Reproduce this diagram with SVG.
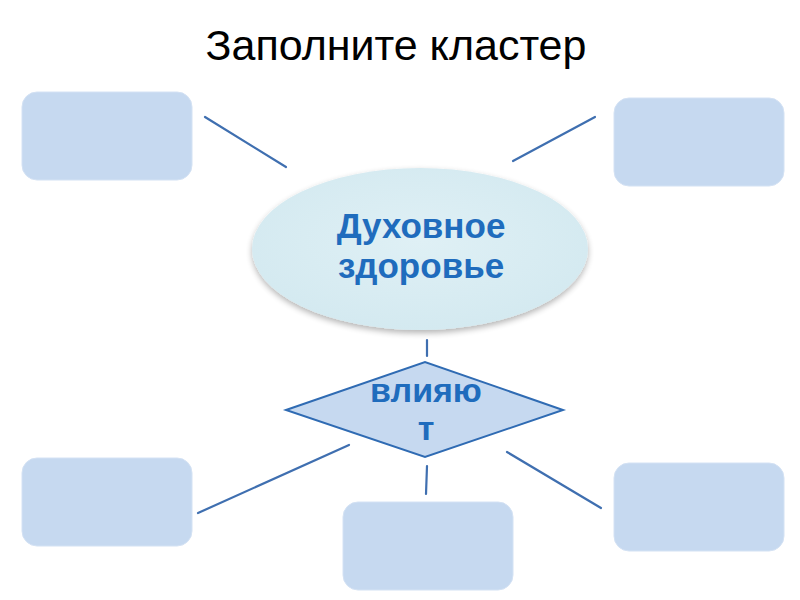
<svg xmlns="http://www.w3.org/2000/svg" width="800" height="600" viewBox="0 0 800 600">
<defs>
<style>
.box{fill:#c6d9f0;stroke:#d4e2f4;stroke-width:1}
.conn line{stroke:#3f6fb0;stroke-width:2.2;stroke-linecap:round}
.title{font-family:"Liberation Sans",Arial,sans-serif;font-size:43px;fill:#000}
.lbl{font-family:"Liberation Sans",Arial,sans-serif;font-weight:bold;fill:#1f6cbd;text-anchor:middle}
</style>
<radialGradient id="eg" cx="0.5" cy="0.45" r="0.6">
<stop offset="0" stop-color="#dff0f5"/>
<stop offset="1" stop-color="#d3e9f0"/>
</radialGradient>
<filter id="sh" x="-10%" y="-10%" width="120%" height="130%">
<feGaussianBlur in="SourceAlpha" stdDeviation="3"/>
<feOffset dy="3"/>
<feComponentTransfer><feFuncA type="linear" slope="0.3"/></feComponentTransfer>
<feMerge><feMergeNode/><feMergeNode in="SourceGraphic"/></feMerge>
</filter>
</defs>
<rect width="800" height="600" fill="#fff"/>
<text class="title" x="396" y="60" text-anchor="middle">Заполните кластер</text>
<g class="conn" id="connectors">
<line x1="205" y1="117" x2="286" y2="167"/>
<line x1="513" y1="161" x2="595" y2="117"/>
<line x1="427" y1="340" x2="427" y2="356"/>
<line x1="198" y1="513" x2="349" y2="445"/>
<line x1="427" y1="466" x2="426" y2="494"/>
<line x1="507" y1="452" x2="601" y2="508"/>
</g>
<g id="box-tl"><rect class="box" x="22" y="92" width="170" height="88" rx="15"/></g>
<g id="box-tr"><rect class="box" x="614" y="98" width="170" height="88" rx="15"/></g>
<g id="box-bl"><rect class="box" x="22" y="458" width="170" height="88" rx="15"/></g>
<g id="box-bc"><rect class="box" x="343" y="502" width="170" height="88" rx="15"/></g>
<g id="box-br"><rect class="box" x="614" y="463" width="170" height="88" rx="15"/></g>
<g id="center">
<ellipse cx="420" cy="249" rx="168" ry="81" fill="url(#eg)" filter="url(#sh)"/>
<text class="lbl" x="421" y="238" font-size="35">Духовное</text>
<text class="lbl" x="421" y="278" font-size="35">здоровье</text>
</g>
<g id="diamond">
<polygon points="286,410 425,362 563,410 425,457" fill="#c6d9f0" stroke="#2f6bb3" stroke-width="2"/>
<text class="lbl" x="426" y="402" font-size="34">влияю</text>
<text class="lbl" x="426" y="440" font-size="34">т</text>
</g>
</svg>
